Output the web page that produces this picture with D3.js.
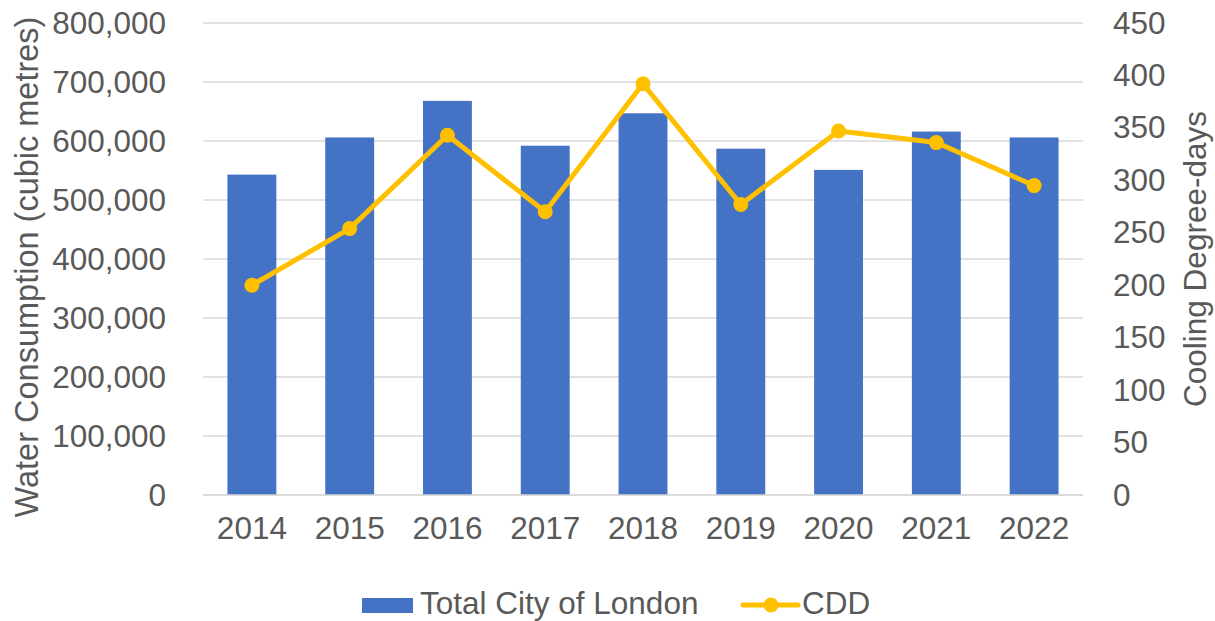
<!DOCTYPE html>
<html>
<head>
<meta charset="utf-8">
<script src="https://cdn.jsdelivr.net/npm/d3@7"></script>
<style>
    body { margin: 0; background: #fff; }
    svg text { font-family: "Liberation Sans", Arial, sans-serif; fill: #595959; }
</style>
</head>
<body>
<div id="chart"></div>
<script>
// chart data
var years = ["2014", "2015", "2016", "2017", "2018", "2019", "2020", "2021", "2022"];
var water = [543000, 606000, 668000, 592000, 647000, 587000, 551000, 616000, 606000];
var cdd = [200, 254, 343, 270, 392, 277, 347, 336, 295];
var waterTicks = [0, 100000, 200000, 300000, 400000, 500000, 600000, 700000, 800000];
var cddTicks = [0, 50, 100, 150, 200, 250, 300, 350, 400, 450];

(function () {
    "use strict";

    var W = 1215, H = 621;
    var margin = { top: 23, right: 132, bottom: 126, left: 203 },
        width = W - margin.left - margin.right,
        height = H - margin.top - margin.bottom;

    var fontSize = 31.5;

    var svg = d3.select("#chart")
        .append("svg")
        .attr("width", W)
        .attr("height", H);

    var g = svg.append("g")
        .attr("transform", "translate(" + margin.left + "," + margin.top + ")");

    var x = d3.scaleBand()
        .domain(years)
        .range([0, width])
        .paddingInner(0.5)
        .paddingOuter(0.25);

    var y0 = d3.scaleLinear().domain([0, 800000]).range([height, 0]);
    var y1 = d3.scaleLinear().domain([0, 450]).range([height, 0]);

    // gridlines
    g.selectAll(".grid")
        .data(waterTicks)
        .enter()
        .append("line")
        .attr("x1", 0)
        .attr("x2", width)
        .attr("y1", function (d) { return y0(d); })
        .attr("y2", function (d) { return y0(d); })
        .attr("stroke", "#d9d9d9")
        .attr("stroke-width", 1.5);

    // left axis
    var left = g.append("g")
        .call(d3.axisLeft(y0).tickValues(waterTicks).tickSize(0).tickPadding(37)
            .tickFormat(d3.format(",")));
    left.select(".domain").remove();
    left.selectAll("text").style("font-size", fontSize + "px").attr("fill", "#595959");

    // right axis
    var right = g.append("g")
        .attr("transform", "translate(" + width + ",0)")
        .call(d3.axisRight(y1).tickValues(cddTicks).tickSize(0).tickPadding(30));
    right.select(".domain").remove();
    right.selectAll("text").style("font-size", fontSize + "px").attr("fill", "#595959");

    // bottom axis
    var bottom = g.append("g")
        .attr("transform", "translate(0," + height + ")")
        .call(d3.axisBottom(x).tickSize(0).tickPadding(22));
    bottom.select(".domain").remove();
    bottom.selectAll("text").style("font-size", fontSize + "px").attr("fill", "#595959");

    // bars
    g.selectAll(".bar")
        .data(water)
        .enter()
        .append("rect")
        .attr("x", function (d, i) { return x(years[i]); })
        .attr("width", x.bandwidth())
        .attr("y", function (d) { return y0(d); })
        .attr("height", function (d) { return height - y0(d); })
        .attr("fill", "#4472c4");

    // baseline
    g.append("line")
        .attr("x1", 0).attr("x2", width)
        .attr("y1", height).attr("y2", height)
        .attr("stroke", "#d9d9d9")
        .attr("stroke-width", 1.5);

    // CDD line
    var line = d3.line()
        .x(function (d, i) { return x(years[i]) + x.bandwidth() / 2; })
        .y(function (d) { return y1(d); });

    g.append("path")
        .attr("d", line(cdd))
        .attr("fill", "none")
        .attr("stroke", "#ffc000")
        .attr("stroke-width", 5)
        .attr("stroke-linejoin", "round");

    g.selectAll(".pt")
        .data(cdd)
        .enter()
        .append("circle")
        .attr("cx", function (d, i) { return x(years[i]) + x.bandwidth() / 2; })
        .attr("cy", function (d) { return y1(d); })
        .attr("r", 7.5)
        .attr("fill", "#ffc000");

    // axis titles
    svg.append("text")
        .attr("transform", "translate(38,267) rotate(-90)")
        .attr("text-anchor", "middle")
        .style("font-size", "32.5px")
        .text("Water Consumption (cubic metres)");

    svg.append("text")
        .attr("transform", "translate(1206," + (margin.top + height / 2) + ") rotate(-90)")
        .attr("text-anchor", "middle")
        .style("font-size", fontSize + "px")
        .text("Cooling Degree-days");

    // legend
    var legend = svg.append("g");
    legend.append("rect")
        .attr("x", 362).attr("y", 598)
        .attr("width", 51).attr("height", 15)
        .attr("fill", "#4472c4");
    legend.append("text")
        .attr("x", 420).attr("y", 614)
        .style("font-size", fontSize + "px")
        .text("Total City of London");
    legend.append("line")
        .attr("x1", 743).attr("x2", 798)
        .attr("y1", 605).attr("y2", 605)
        .attr("stroke", "#ffc000")
        .attr("stroke-width", 5)
        .attr("stroke-linecap", "round");
    legend.append("circle")
        .attr("cx", 771).attr("cy", 605)
        .attr("r", 7.5)
        .attr("fill", "#ffc000");
    legend.append("text")
        .attr("x", 802).attr("y", 614)
        .style("font-size", fontSize + "px")
        .text("CDD");
})();
</script>
</body>
</html>
